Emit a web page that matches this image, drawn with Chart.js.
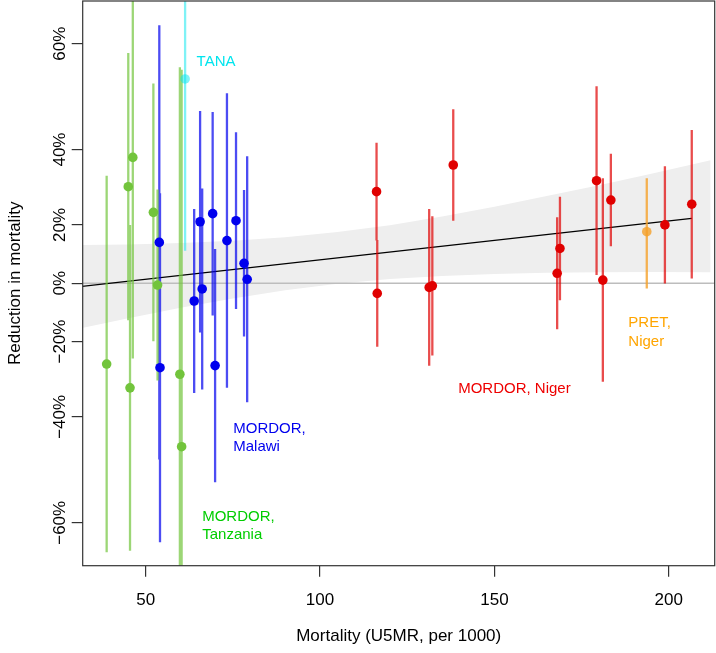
<!DOCTYPE html>
<html>
<head>
<meta charset="utf-8">
<script src="https://cdn.jsdelivr.net/npm/chart.js@4.4.1/dist/chart.umd.min.js"></script>
<style>
  html, body { margin: 0; padding: 0; background: #fff; }
  canvas { display: block; }
</style>
</head>
<body>
<canvas id="chart" width="716" height="653"></canvas>
<script>
(function() {
    'use strict';

    // y is on the plotted scale: -log(rate ratio), so a reduction points up
    var tanzaniaX  = [38.8, 45.0, 46.3, 45.5, 52.2, 53.4, 59.8, 60.3];
    var tanzaniaY  = [-0.309, 0.369, 0.481, -0.400, 0.271, -0.007, -0.348, -0.625];
    var tanzaniaLo = [-1.029, -0.142, -0.288, -1.023, -0.222, -0.372, -1.522, -2.066];
    var tanzaniaHi = [0.411, 0.880, 1.250, 0.223, 0.764, 0.358, 0.826, 0.816];

    var malawiX  = [53.9, 54.1, 63.9, 65.6, 66.2, 69.2, 69.9, 73.3, 75.9, 78.2, 79.1];
    var malawiY  = [0.156, -0.323, -0.068, 0.235, -0.022, 0.266, -0.315, 0.163, 0.239, 0.076, 0.015];
    var malawiLo = [-0.674, -0.990, -0.420, -0.188, -0.406, -0.123, -0.761, -0.400, -0.099, -0.204, -0.455];
    var malawiHi = [0.986, 0.344, 0.284, 0.658, 0.362, 0.655, 0.131, 0.726, 0.577, 0.356, 0.485];

    var nigerX  = [116.2, 116.4, 131.3, 132.2, 138.2, 168.0, 168.8, 179.3, 181.1, 183.4, 198.9, 206.6];
    var nigerY  = [0.350, -0.039, -0.016, -0.010, 0.452, 0.038, 0.133, 0.392, 0.012, 0.318, 0.223, 0.302];
    var nigerLo = [0.163, -0.243, -0.316, -0.276, 0.239, -0.176, -0.065, 0.031, -0.377, 0.141, -0.001, 0.018];
    var nigerHi = [0.537, 0.165, 0.284, 0.256, 0.665, 0.252, 0.331, 0.753, 0.401, 0.495, 0.447, 0.586];

    var tanaX  = [61.3];
    var tanaY  = [0.781];
    var tanaLo = [0.124];
    var tanaHi = [1.438];

    var pretX  = [193.7];
    var pretY  = [0.197];
    var pretLo = [-0.020];
    var pretHi = [0.401];

    // meta-regression line and its confidence band
    var fitX = [30, 206.6];
    var fitY = [-0.015, 0.248];
    var bandX  = [30, 45, 60, 75, 90, 105, 120, 135, 150, 165, 180, 195, 212];
    var bandHi = [0.146, 0.148, 0.154, 0.162, 0.176, 0.196, 0.222, 0.255, 0.292, 0.333, 0.375, 0.419, 0.470];
    var bandLo = [-0.176, -0.134, -0.094, -0.058, -0.027, -0.002, 0.016, 0.028, 0.035, 0.040, 0.042, 0.043, 0.042];

    var xMin = 31.93, xMax = 213.18;
    var yMin = -1.080, yMax = 1.079;
    var xTicks = [50, 100, 150, 200];
    var yTicks = [-0.916, -0.511, -0.223, 0, 0.223, 0.511, 0.916];
    var yTickLabels = ['\u221260%', '\u221240%', '\u221220%', '0%', '20%', '40%', '60%'];

    var notes = [
        { lines: ['TANA'], x: 64.6, y: 0.829, color: '#00e5ee' },
        { lines: ['MORDOR,', 'Malawi'], x: 75.1, y: -0.571, color: '#0000ee' },
        { lines: ['MORDOR,', 'Tanzania'], x: 66.2, y: -0.908, color: '#00cd00' },
        { lines: ['MORDOR, Niger'], x: 139.6, y: -0.418, color: '#ee0000' },
        { lines: ['PRET,', 'Niger'], x: 188.4, y: -0.169, color: '#ffa500' }
    ];

    var FONT = '"Liberation Sans", Arial, Helvetica, sans-serif';

    function pts(xs, ys) {
        return xs.map(function(x, i) { return { x: x, y: ys[i] }; });
    }

    function bars(xs, lo, hi) {
        var out = [];
        xs.forEach(function(x, i) {
            out.push({ x: x, y: lo[i] }, { x: x, y: hi[i] }, { x: x, y: null });
        });
        return out;
    }

    function barSet(xs, lo, hi, color) {
        return {
            data: bars(xs, lo, hi),
            showLine: true, spanGaps: false,
            borderColor: color, borderWidth: 2.3, borderCapStyle: 'butt',
            pointRadius: 0, order: 1
        };
    }

    function pointSet(xs, ys, color) {
        return {
            data: pts(xs, ys),
            backgroundColor: color, borderColor: color,
            pointRadius: 4.8, pointBorderWidth: 0, order: 0
        };
    }

    var frame = {
        id: 'frame',
        afterDraw: function(chart) {
            var ctx = chart.ctx, a = chart.chartArea;
            var xs = chart.scales.x, ys = chart.scales.y;
            ctx.save();
            ctx.strokeStyle = '#333';
            ctx.lineWidth = 1.2;
            ctx.strokeRect(a.left, a.top, a.right - a.left, a.bottom - a.top);

            ctx.fillStyle = '#000';
            ctx.font = '17px ' + FONT;
            ctx.textAlign = 'center';
            ctx.textBaseline = 'alphabetic';
            xTicks.forEach(function(v) {
                ctx.fillText(String(v), xs.getPixelForValue(v), a.bottom + 38.8);
            });
            yTicks.forEach(function(v, i) {
                ctx.save();
                ctx.translate(a.left - 17.7, ys.getPixelForValue(v));
                ctx.rotate(-Math.PI / 2);
                ctx.fillText(yTickLabels[i], 0, 0);
                ctx.restore();
            });
            ctx.fillText('Mortality (U5MR, per 1000)', (a.left + a.right) / 2, a.bottom + 75.3);
            ctx.save();
            ctx.translate(19.5, (a.top + a.bottom) / 2);
            ctx.rotate(-Math.PI / 2);
            ctx.fillText('Reduction in mortality', 0, 0);
            ctx.restore();

            ctx.font = '15px ' + FONT;
            ctx.textAlign = 'left';
            notes.forEach(function(n) {
                ctx.fillStyle = n.color;
                var px = xs.getPixelForValue(n.x), py = ys.getPixelForValue(n.y);
                n.lines.forEach(function(t, k) {
                    ctx.fillText(t, px, py + k * 18.5);
                });
            });
            ctx.restore();
        }
    };

    var datasets = [
        pointSet(tanzaniaX, tanzaniaY, '#72c43c'),
        pointSet(malawiX, malawiY, '#0000ee'),
        pointSet(nigerX, nigerY, '#e00000'),
        pointSet(tanaX, tanaY, 'rgba(0,229,238,0.5)'),
        pointSet(pretX, pretY, 'rgba(245,160,40,0.8)'),
        barSet(tanzaniaX, tanzaniaLo, tanzaniaHi, 'rgba(114,196,60,0.7)'),
        barSet(malawiX, malawiLo, malawiHi, 'rgba(0,0,238,0.7)'),
        barSet(nigerX, nigerLo, nigerHi, 'rgba(224,0,0,0.7)'),
        barSet(tanaX, tanaLo, tanaHi, 'rgba(0,229,238,0.5)'),
        barSet(pretX, pretLo, pretHi, 'rgba(245,160,40,0.8)'),
        {
            data: pts(fitX, fitY),
            showLine: true, borderColor: '#000', borderWidth: 1.3,
            pointRadius: 0, order: 2
        },
        {
            data: [{ x: xMin, y: 0 }, { x: xMax, y: 0 }],
            showLine: true, borderColor: '#bdbdbd', borderWidth: 1.5,
            pointRadius: 0, order: 3
        },
        {
            data: pts(bandX, bandHi),
            showLine: true, borderWidth: 0, borderColor: 'rgba(0,0,0,0)',
            backgroundColor: '#eeeeee', fill: '+1',
            pointRadius: 0, order: 4
        },
        {
            data: pts(bandX, bandLo),
            showLine: true, borderWidth: 0, borderColor: 'rgba(0,0,0,0)',
            pointRadius: 0, order: 5
        }
    ];

    new Chart(document.getElementById('chart'), {
        type: 'scatter',
        data: { datasets: datasets },
        options: {
            responsive: false,
            animation: false,
            devicePixelRatio: 1,
            layout: { autoPadding: false, padding: { top: 1, right: 1.3, left: 0, bottom: 0 } },
            plugins: { legend: { display: false }, tooltip: { enabled: false } },
            scales: {
                x: {
                    type: 'linear', min: xMin, max: xMax,
                    afterBuildTicks: function(s) { s.ticks = xTicks.map(function(v) { return { value: v }; }); },
                    afterFit: function(s) { s.height = 87.3; },
                    ticks: { display: false },
                    border: { display: false },
                    grid: { drawOnChartArea: false, drawTicks: true, tickLength: 11, color: '#333', lineWidth: 1.2 }
                },
                y: {
                    type: 'linear', min: yMin, max: yMax,
                    afterBuildTicks: function(s) { s.ticks = yTicks.map(function(v) { return { value: v }; }); },
                    afterFit: function(s) { s.width = 82.7; },
                    ticks: { display: false },
                    border: { display: false },
                    grid: { drawOnChartArea: false, drawTicks: true, tickLength: 11, color: '#333', lineWidth: 1.2 }
                }
            }
        },
        plugins: [frame]
    });
})();
</script>
</body>
</html>
